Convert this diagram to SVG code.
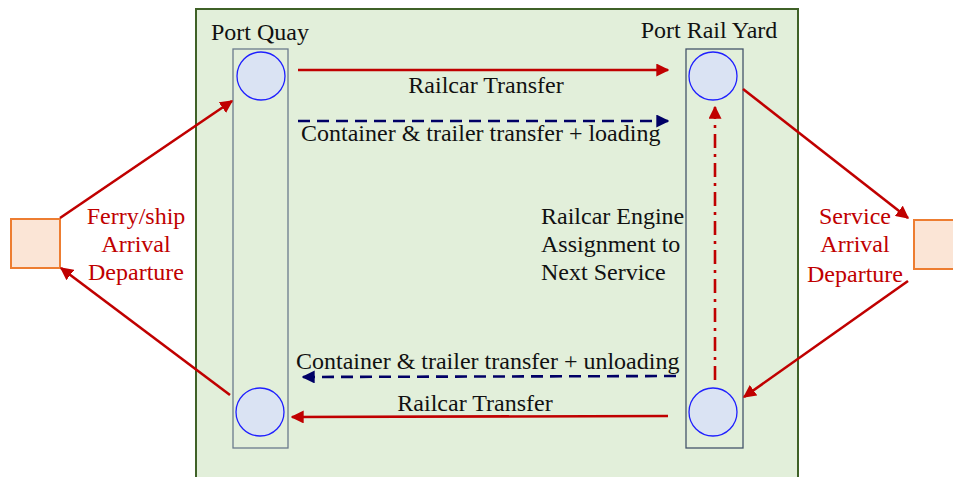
<svg xmlns="http://www.w3.org/2000/svg" width="953" height="477" viewBox="0 0 953 477">
<style>
text{font-family:"Liberation Serif","Times New Roman",serif;font-size:24px;fill:#111}
.red{fill:#c00000}
.col{fill:none;stroke:#6a7a8c;stroke-width:1.3}
.col2{fill:none;stroke:#44546a;stroke-width:1.3}
.circ{fill:#dae3f3;stroke:#1f1fff;stroke-width:1.3}
.sq{fill:#fbe5d6;stroke:#ed7d31;stroke-width:2}
.r{stroke:#c00000;stroke-width:2.6;fill:none}
.n{stroke:#000066;stroke-width:2.6;fill:none;stroke-dasharray:12 7}
.dd{stroke:#c00000;stroke-width:2.6;fill:none;stroke-dasharray:14 6 3 6}
</style>
<defs>
<marker id="ar" viewBox="0 0 10 10" refX="9" refY="5" markerWidth="5" markerHeight="5" orient="auto" markerUnits="strokeWidth"><path d="M0,0L10,5L0,10z" fill="#c00000"/></marker>
<marker id="an" viewBox="0 0 10 10" refX="9" refY="5" markerWidth="5" markerHeight="5" orient="auto" markerUnits="strokeWidth"><path d="M0,0L10,5L0,10z" fill="#000066"/></marker>
</defs>
<rect x="0" y="0" width="953" height="477" fill="#fff"/>
<g id="port-area"><rect x="196" y="9" width="602" height="480" fill="#e2efda" stroke="#3f6127" stroke-width="2"/></g>
<g id="port-quay">
<rect class="col" x="233" y="49" width="55" height="399"/>
<circle class="circ" cx="261" cy="76" r="24"/>
<circle class="circ" cx="260" cy="412" r="24"/>
<text x="260" y="40" text-anchor="middle">Port Quay</text>
</g>
<g id="port-rail-yard">
<rect class="col2" x="686" y="49" width="57" height="399"/>
<circle class="circ" cx="713" cy="76" r="24"/>
<circle class="circ" cx="713" cy="412" r="24"/>
<text x="709" y="38" text-anchor="middle">Port Rail Yard</text>
</g>
<g id="ferry">
<rect class="sq" x="11" y="219" width="49" height="49"/>
<text class="red" text-anchor="middle"><tspan x="136" y="224">Ferry/ship</tspan><tspan x="136" y="252">Arrival</tspan><tspan x="136" y="280">Departure</tspan></text>
</g>
<g id="service">
<rect class="sq" x="914" y="220" width="50" height="49"/>
<text class="red" text-anchor="middle"><tspan x="855" y="224">Service</tspan><tspan x="855" y="252">Arrival</tspan><tspan x="855" y="282">Departure</tspan></text>
</g>
<g id="engine-label">
<text><tspan x="541" y="224">Railcar Engine</tspan><tspan x="541" y="252">Assignment to</tspan><tspan x="541" y="280">Next Service</tspan></text>
</g>
<g id="connectors">
<line class="r" x1="298" y1="70" x2="668" y2="70" marker-end="url(#ar)"/>
<line class="n" x1="298" y1="121" x2="668" y2="121" marker-end="url(#an)"/>
<line class="r" x1="60" y1="218" x2="232" y2="101" marker-end="url(#ar)"/>
<line class="r" x1="230" y1="395" x2="61" y2="268" marker-end="url(#ar)"/>
<line class="r" x1="743" y1="89" x2="908" y2="218" marker-end="url(#ar)"/>
<line class="r" x1="908" y1="281" x2="744" y2="397" marker-end="url(#ar)"/>
<line class="n" x1="676" y1="376" x2="303" y2="377" marker-end="url(#an)"/>
<line class="r" x1="668" y1="416" x2="292" y2="417" marker-end="url(#ar)"/>
<line class="dd" x1="715" y1="380" x2="715" y2="107" marker-end="url(#ar)"/>
<text x="486" y="93" text-anchor="middle">Railcar Transfer</text>
<text x="301" y="141">Container &amp; trailer transfer + loading</text>
<text x="296" y="369">Container &amp; trailer transfer + unloading</text>
<text x="475" y="411" text-anchor="middle">Railcar Transfer</text>
</g>
</svg>
